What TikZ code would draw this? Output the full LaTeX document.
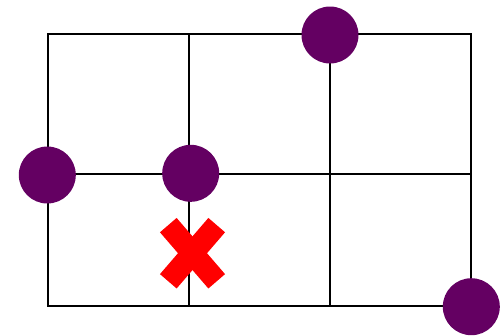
\documentclass[tikz,border=0pt]{standalone}
\begin{document}
\begin{tikzpicture}[x=1bp,y=-1bp,
  gridline/.style={line width=1.8bp,black,line cap=rect},
  dot/.style={circle,fill={rgb,255:red,100;green,0;blue,98},minimum size=57bp,inner sep=0pt},
  crossbar/.style={line width=22bp,red}]
\useasboundingbox (0,0) rectangle (504,335);
\clip (0,0) rectangle (504,335);
% grid coordinates
\coordinate (a1) at (48.3,34);  \coordinate (b1) at (189.3,34);  \coordinate (c1) at (330.3,34);  \coordinate (d1) at (471.3,34);
\coordinate (a2) at (48.3,173.7); \coordinate (d2) at (471.3,173.7);
\coordinate (a3) at (48.3,306); \coordinate (b3) at (189.3,306); \coordinate (c3) at (330.3,306); \coordinate (d3) at (471.3,306);
\draw[gridline] (a1) rectangle (d3);
\draw[gridline] (b1) -- (b3);
\draw[gridline] (c1) -- (c3);
\draw[gridline] (a2) -- (d2);
% dots
\node[dot] (p1) at (330,35) {};
\node[dot] (p2) at (47.3,175) {};
\node[dot] (p3) at (190.7,173.3) {};
\node[dot] (p4) at (471.3,306.7) {};
% cross
\coordinate (x1) at (168.3,225.1);
\coordinate (x2) at (216.7,281.3);
\coordinate (x3) at (216.7,225.1);
\coordinate (x4) at (168.3,281.3);
\draw[crossbar] (x1) -- (x2);
\draw[crossbar] (x3) -- (x4);
\end{tikzpicture}
\end{document}
